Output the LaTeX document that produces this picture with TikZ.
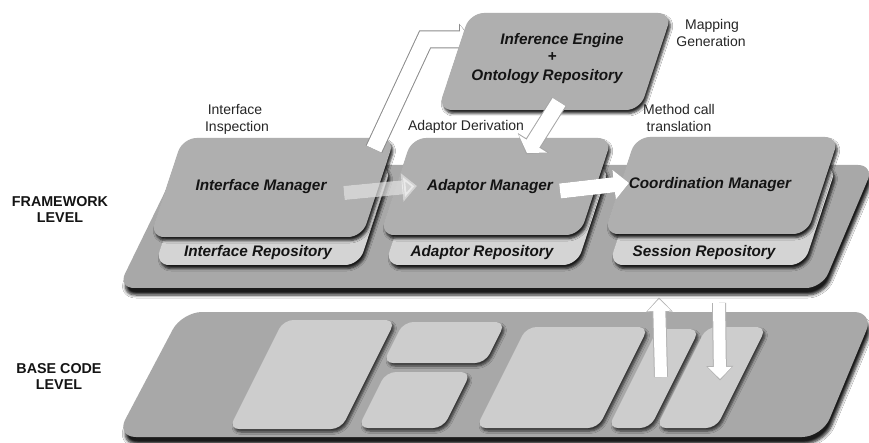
\documentclass[tikz,border=0pt]{standalone}
\usepackage{fontspec}
\setmainfont{Liberation Sans}
\usetikzlibrary{shadows.blur,arrows.meta}

\definecolor{plat}{HTML}{A8A8A8}
\definecolor{mgr}{HTML}{AFAFAF}
\definecolor{repo}{HTML}{D4D4D4}
\definecolor{blk}{HTML}{CDCDCD}
\definecolor{ink}{HTML}{141414}

% slanted rounded box: #1 style, #2 bottom-left x, #3 bottom y, #4 width, #5 height, #6 slant
\newcommand{\slbox}[6]{%
  \begin{scope}[shift={(#2,#3)},xslant=#6]
    \path[#1] (0,0) -- (#4,0) -- (#4,-#5) -- (0,-#5) -- cycle;
  \end{scope}}

\tikzset{
  platform/.style={fill=plat, rounded corners=16pt,
    blur shadow={shadow xshift=2pt,shadow yshift=-7pt,shadow blur radius=3pt,shadow blur steps=6,shadow opacity=90}},
  mgrbox/.style={fill=mgr, rounded corners=14pt,
    blur shadow={shadow xshift=2pt,shadow yshift=-3.5pt,shadow blur radius=2.5pt,shadow blur steps=5,shadow opacity=85}},
  repobox/.style={mgrbox, fill=repo},
  codeblock/.style={fill=blk, rounded corners=10pt,
    blur shadow={shadow xshift=2pt,shadow yshift=-3pt,shadow blur radius=2.5pt,shadow blur steps=5,shadow opacity=70}},
  bi/.style={font=\fontsize{15.3}{18}\selectfont\bfseries\itshape, text=ink, anchor=base, inner sep=0pt},
  note/.style={font=\fontsize{14}{17}\selectfont, text=black!85, anchor=base, inner sep=0pt},
  level/.style={font=\fontsize{14.3}{17}\selectfont\bfseries, text=ink, anchor=base, inner sep=0pt},
  % block arrow: shaft width, head width, head length
  fat/.style n args={3}{line width=#1, -{Triangle[length=#3,width=#2]}, line join=miter},
  fatrim/.style n args={3}{line width=#1+2pt, -{Triangle[length=#3+2.5pt,width=#2+3pt]}, line join=miter,
    shorten >=-1.5pt, draw=black!45},
  fatshadow/.style={draw=black!80, opacity=0.45, xshift=2pt, yshift=-2.5pt},
  fatbody/.style={draw=white},
}

\begin{document}
\begin{tikzpicture}[x=1pt,y=-1pt]
\useasboundingbox[fill=white] (0,0) rectangle (869,443);

% ---------- base code platform ----------
\path[platform, rounded corners=20pt] (116,437) -- (182,312) -- (874,312) -- (822,437) -- cycle;
\slbox{codeblock}{229}{429}{112}{109}{0.5}
\slbox{codeblock}{383}{363}{102}{41}{0.5}
\slbox{codeblock}{358}{428}{85}{56}{0.5}
\slbox{codeblock}{476}{428}{122}{101}{0.5}
\slbox{codeblock}{608}{428}{42}{99}{0.5}
\slbox{codeblock}{656}{428}{60}{101}{0.5}

% ---------- framework platform ----------
\path[platform] (118,288) -- (178,165) -- (874,165) -- (822,288) -- cycle;

% repositories (behind the managers)
\slbox{repobox}{155}{265}{204}{99}{0.33}
\slbox{repobox}{385}{265}{192}{99}{0.33}
\slbox{repobox}{609}{265}{195}{99}{0.33}

% managers
\slbox{mgrbox}{150}{237}{212}{99}{0.33}
\slbox{mgrbox}{380}{235}{200}{97}{0.33}
\slbox{mgrbox}{604}{234}{203}{97}{0.33}

% ---------- arrow end points ----------
\coordinate (inspA) at (374,149);
\coordinate (inspB) at (425,39.5);
\coordinate (inspC) at (471,39.5);
\coordinate (deriA) at (559,102);
\coordinate (deriB) at (527,153);
\coordinate (imOut) at (344,193);
\coordinate (amIn)  at (417,186);
\coordinate (amOut) at (560,191);
\coordinate (cmIn)  at (629,183);
\coordinate (upA)   at (661,377);
\coordinate (upB)   at (659,299);
\coordinate (dnA)   at (719,303);
\coordinate (dnB)   at (720,379);

% interface inspection: manager up to the inference engine
\draw[fat={16pt}{28pt}{11pt}, fatshadow] (inspA) -- (inspB) -- (inspC);
\draw[fatrim={16pt}{28pt}{11pt}] (inspA) -- (inspB) -- (inspC);
\draw[fat={16pt}{28pt}{11pt}, fatbody] (inspA) -- (inspB) -- (inspC);

% inference engine box
\slbox{mgrbox}{438}{110}{202}{97}{0.33}

% adaptor derivation
\draw[fat={15pt}{33pt}{11pt}, fatshadow] (deriA) -- (deriB);
\draw[fatrim={15pt}{33pt}{11pt}, draw=black!35] (deriA) -- (deriB);
\draw[fat={15pt}{33pt}{11pt}, fatbody] (deriA) -- (deriB);

% interface manager -> adaptor manager (faded)
\draw[fat={14pt}{28pt}{15pt}, draw=black!80, opacity=0.25, xshift=2pt, yshift=-2.5pt] (imOut) -- (amIn);
\draw[fat={14pt}{28pt}{15pt}, draw=white, opacity=0.6] (imOut) -- (amIn);

% adaptor manager -> coordination manager
\draw[fat={15pt}{29pt}{15pt}, fatshadow] (amOut) -- (cmIn);
\draw[fat={15pt}{29pt}{15pt}, fatbody] (amOut) -- (cmIn);

% calls between base code and framework
\draw[fat={12pt}{23pt}{12pt}, fatshadow] (upA) -- (upB);
\draw[fatrim={12pt}{23pt}{12pt}, draw=black!30] (upA) -- (upB);
\draw[fat={12pt}{23pt}{12pt}, fatbody] (upA) -- (upB);
\draw[fat={12pt}{23pt}{12pt}, fatshadow] (dnA) -- (dnB);
\draw[fatrim={12pt}{23pt}{12pt}, draw=black!30] (dnA) -- (dnB);
\draw[fat={12pt}{23pt}{12pt}, fatbody] (dnA) -- (dnB);

% ---------- texts ----------
\node[bi] (imT) at (261,191) {Interface Manager};
\node[bi] (irT) at (258,257) {Interface Repository};
\node[bi] (amT) at (490,191) {Adaptor Manager};
\node[bi] (arT) at (482,257) {Adaptor Repository};
\node[bi] (cmT) at (710,189) {Coordination Manager};
\node[bi] (srT) at (704,257) {Session Repository};
\node[bi] (ieT1) at (562,45) {Inference Engine};
\node[bi] (ieT2) at (552,62) {+};
\node[bi] (ieT3) at (547,81) {Ontology Repository};

\node[note] (n1a) at (235,115) {Interface};
\node[note] (n1b) at (237,132) {Inspection};
\node[note] (n2)  at (466,131) {Adaptor Derivation};
\node[note] (n3a) at (679,115) {Method call};
\node[note] (n3b) at (679,132) {translation};
\node[note] (n4a) at (712,30) {Mapping};
\node[note] (n4b) at (711,47) {Generation};

\node[level] (fw1) at (60,207) {FRAMEWORK};
\node[level] (fw2) at (60,223) {LEVEL};
\node[level] (bc1) at (59,373) {BASE CODE};
\node[level] (bc2) at (59,389) {LEVEL};
\end{tikzpicture}
\end{document}
